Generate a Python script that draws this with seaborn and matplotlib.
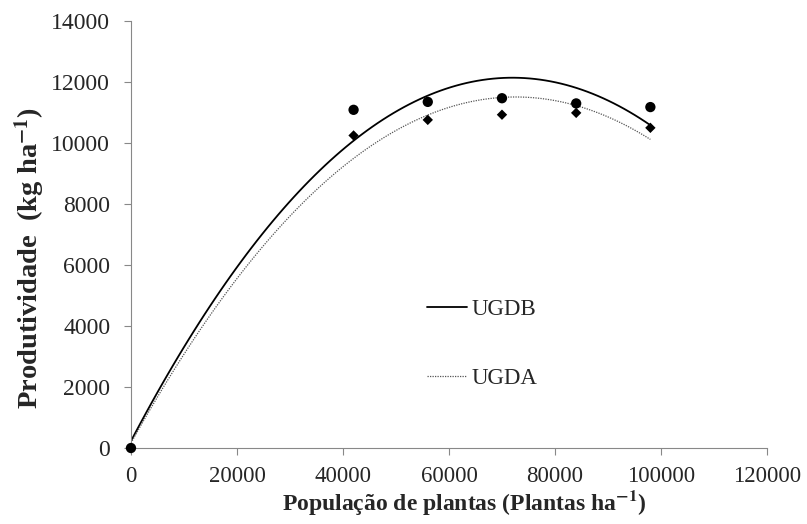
import numpy as np
import pandas as pd
import seaborn as sns
import matplotlib.pyplot as plt

# Data
populacao = [0, 42000, 56000, 70000, 84000, 98000]
ugdb = [0, 11080, 11340, 11460, 11290, 11170]
ugda = [0, 10240, 10750, 10920, 10980, 10490]
x_ticks = [0, 20000, 40000, 60000, 80000, 100000, 120000]
y_ticks = [0, 2000, 4000, 6000, 8000, 10000, 12000, 14000]

sns.set_style('white')
plt.rcParams['font.family'] = ['Liberation Serif', 'DejaVu Serif']
plt.rcParams['mathtext.fontset'] = 'stix'

fig = plt.figure(figsize=(8.07, 5.24), dpi=100)
ax = fig.add_axes([0.1623, 0.145, 0.7881, 0.8155])

sns.regplot(x=populacao, y=ugdb, order=2, ci=None, scatter=False, ax=ax,
            label='UGDB', line_kws=dict(color='black', lw=1.3, ls='-'))
sns.regplot(x=populacao, y=ugda, order=2, ci=None, scatter=False, ax=ax,
            label='UGDA', line_kws=dict(color='#555555', lw=0.9, ls=(0, (1, 1))))
sns.scatterplot(x=populacao, y=ugda, marker='D', color='black', s=28, ax=ax,
                edgecolor='none', zorder=3, clip_on=False)
sns.scatterplot(x=populacao, y=ugdb, marker='o', color='black', s=55, ax=ax,
                edgecolor='none', zorder=4, clip_on=False)

ax.set_xlim(0, 120000)
ax.set_ylim(0, 14000)
ax.set_xticks(x_ticks)
ax.set_yticks(y_ticks)
ax.set_xticklabels([str(v) for v in x_ticks])
ax.set_yticklabels([str(v) for v in y_ticks])
ax.tick_params(direction='out', length=5, width=0.8, color='#888888',
               left=True, bottom=True)
ax.tick_params(axis='y', pad=10, labelsize=17)
ax.tick_params(axis='x', pad=8, labelsize=16.5)
for s in ['top', 'right']:
    ax.spines[s].set_visible(False)
for s in ['left', 'bottom']:
    ax.spines[s].set_color('#888888')
    ax.spines[s].set_linewidth(0.8)

ax.set_xlabel(r'População de plantas (Plantas ha$^{\mathbf{-1}}$)',
              fontsize=17, fontweight='bold')
ax.set_ylabel(r'Produtividade  (kg ha$^{\mathbf{-1}}$)',
              fontsize=20.5, fontweight='bold')
ax.xaxis.set_label_coords(0.524, -0.094)
ax.yaxis.set_label_coords(-0.132, 0.445)

handles = ax.lines[:2]
ax.legend(handles=handles, labels=['UGDB', 'UGDA'], frameon=False,
          loc='center left', bbox_to_anchor=(0.529, 0.3435),
          bbox_transform=fig.transFigure, borderpad=0, borderaxespad=0,
          handlelength=1.75, handletextpad=0.2, labelspacing=2.1, fontsize=16.5)

fig.savefig('out.png', dpi=100)
